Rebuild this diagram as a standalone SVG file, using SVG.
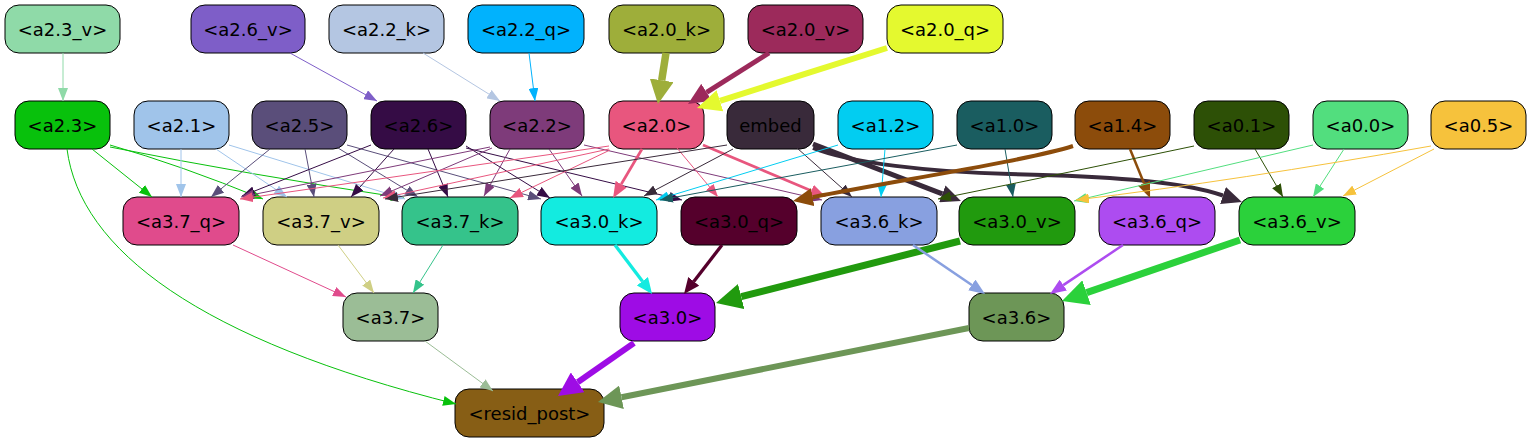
<svg xmlns="http://www.w3.org/2000/svg" width="1531" height="443" viewBox="0 0 1531 443">
<style>
.node rect{stroke:#000;stroke-width:1}
.node text{font-family:"DejaVu Sans","Liberation Sans",sans-serif;font-size:18px;text-anchor:middle;fill:#000}
#edges path{fill:none;stroke-width:1}
</style>
<defs>
<marker id="t-a23v" viewBox="0 0 13 10" refX="13" refY="5" markerWidth="13" markerHeight="10" markerUnits="userSpaceOnUse" orient="auto"><path d="M0,0L13,5L0,10z" fill="#8fdaa8"/></marker>
<marker id="t-a26v" viewBox="0 0 13 10" refX="13" refY="5" markerWidth="13" markerHeight="10" markerUnits="userSpaceOnUse" orient="auto"><path d="M0,0L13,5L0,10z" fill="#7e5ec8"/></marker>
<marker id="t-a22k" viewBox="0 0 13 10" refX="13" refY="5" markerWidth="13" markerHeight="10" markerUnits="userSpaceOnUse" orient="auto"><path d="M0,0L13,5L0,10z" fill="#b4c6e2"/></marker>
<marker id="t-a22q" viewBox="0 0 13 10" refX="13" refY="5" markerWidth="13" markerHeight="10" markerUnits="userSpaceOnUse" orient="auto"><path d="M0,0L13,5L0,10z" fill="#01b2fd"/></marker>
<marker id="t-a23" viewBox="0 0 13 10" refX="13" refY="5" markerWidth="13" markerHeight="10" markerUnits="userSpaceOnUse" orient="auto"><path d="M0,0L13,5L0,10z" fill="#08c10c"/></marker>
<marker id="t-a21" viewBox="0 0 13 10" refX="13" refY="5" markerWidth="13" markerHeight="10" markerUnits="userSpaceOnUse" orient="auto"><path d="M0,0L13,5L0,10z" fill="#a0c4ea"/></marker>
<marker id="t-a25" viewBox="0 0 13 10" refX="13" refY="5" markerWidth="13" markerHeight="10" markerUnits="userSpaceOnUse" orient="auto"><path d="M0,0L13,5L0,10z" fill="#5a4e7a"/></marker>
<marker id="t-a26" viewBox="0 0 13 10" refX="13" refY="5" markerWidth="13" markerHeight="10" markerUnits="userSpaceOnUse" orient="auto"><path d="M0,0L13,5L0,10z" fill="#350c45"/></marker>
<marker id="t-a22" viewBox="0 0 13 10" refX="13" refY="5" markerWidth="13" markerHeight="10" markerUnits="userSpaceOnUse" orient="auto"><path d="M0,0L13,5L0,10z" fill="#7e3b7a"/></marker>
<marker id="t-a20" viewBox="0 0 13 10" refX="13" refY="5" markerWidth="13" markerHeight="10" markerUnits="userSpaceOnUse" orient="auto"><path d="M0,0L13,5L0,10z" fill="#e8567e"/></marker>
<marker id="t-emb" viewBox="0 0 13 10" refX="13" refY="5" markerWidth="13" markerHeight="10" markerUnits="userSpaceOnUse" orient="auto"><path d="M0,0L13,5L0,10z" fill="#392a3a"/></marker>
<marker id="t-a12" viewBox="0 0 13 10" refX="13" refY="5" markerWidth="13" markerHeight="10" markerUnits="userSpaceOnUse" orient="auto"><path d="M0,0L13,5L0,10z" fill="#02cdf1"/></marker>
<marker id="t-a10" viewBox="0 0 13 10" refX="13" refY="5" markerWidth="13" markerHeight="10" markerUnits="userSpaceOnUse" orient="auto"><path d="M0,0L13,5L0,10z" fill="#1a5d60"/></marker>
<marker id="t-a01" viewBox="0 0 13 10" refX="13" refY="5" markerWidth="13" markerHeight="10" markerUnits="userSpaceOnUse" orient="auto"><path d="M0,0L13,5L0,10z" fill="#2d5006"/></marker>
<marker id="t-a00" viewBox="0 0 13 10" refX="13" refY="5" markerWidth="13" markerHeight="10" markerUnits="userSpaceOnUse" orient="auto"><path d="M0,0L13,5L0,10z" fill="#52de7e"/></marker>
<marker id="t-a05" viewBox="0 0 13 10" refX="13" refY="5" markerWidth="13" markerHeight="10" markerUnits="userSpaceOnUse" orient="auto"><path d="M0,0L13,5L0,10z" fill="#f6c23c"/></marker>
<marker id="t-a37q" viewBox="0 0 13 10" refX="13" refY="5" markerWidth="13" markerHeight="10" markerUnits="userSpaceOnUse" orient="auto"><path d="M0,0L13,5L0,10z" fill="#e04b8c"/></marker>
<marker id="t-a37v" viewBox="0 0 13 10" refX="13" refY="5" markerWidth="13" markerHeight="10" markerUnits="userSpaceOnUse" orient="auto"><path d="M0,0L13,5L0,10z" fill="#cfcf84"/></marker>
<marker id="t-a37k" viewBox="0 0 13 10" refX="13" refY="5" markerWidth="13" markerHeight="10" markerUnits="userSpaceOnUse" orient="auto"><path d="M0,0L13,5L0,10z" fill="#35c38b"/></marker>
<marker id="t-a37" viewBox="0 0 13 10" refX="13" refY="5" markerWidth="13" markerHeight="10" markerUnits="userSpaceOnUse" orient="auto"><path d="M0,0L13,5L0,10z" fill="#9bbd96"/></marker>
<marker id="k-a20k" viewBox="0 0 24 24" refX="0" refY="12" markerWidth="24" markerHeight="24" markerUnits="userSpaceOnUse" orient="auto"><path d="M0,0L24,12L0,24z" fill="#9eae3a"/></marker>
<marker id="k-a20v" viewBox="0 0 22 20" refX="0" refY="10" markerWidth="22" markerHeight="20" markerUnits="userSpaceOnUse" orient="auto"><path d="M0,0L22,10L0,20z" fill="#9c2a5b"/></marker>
<marker id="k-a20q" viewBox="0 0 24 22" refX="0" refY="11" markerWidth="24" markerHeight="22" markerUnits="userSpaceOnUse" orient="auto"><path d="M0,0L24,11L0,22z" fill="#e4f92f"/></marker>
<marker id="m-a20" viewBox="0 0 16 13" refX="0" refY="6.5" markerWidth="16" markerHeight="13" markerUnits="userSpaceOnUse" orient="auto"><path d="M0,0L16,6.5L0,13z" fill="#e8567e"/></marker>
<marker id="k-emb" viewBox="0 0 20 18" refX="0" refY="9" markerWidth="20" markerHeight="18" markerUnits="userSpaceOnUse" orient="auto"><path d="M0,0L20,9L0,18z" fill="#392a3a"/></marker>
<marker id="k-a14" viewBox="0 0 20 18" refX="0" refY="9" markerWidth="20" markerHeight="18" markerUnits="userSpaceOnUse" orient="auto"><path d="M0,0L20,9L0,18z" fill="#8c4c0b"/></marker>
<marker id="m-a14" viewBox="0 0 16 13" refX="0" refY="6.5" markerWidth="16" markerHeight="13" markerUnits="userSpaceOnUse" orient="auto"><path d="M0,0L16,6.5L0,13z" fill="#8c4c0b"/></marker>
<marker id="m-a30k" viewBox="0 0 16 14" refX="0" refY="7" markerWidth="16" markerHeight="14" markerUnits="userSpaceOnUse" orient="auto"><path d="M0,0L16,7L0,14z" fill="#13ebe0"/></marker>
<marker id="m-a30q" viewBox="0 0 16 14" refX="0" refY="7" markerWidth="16" markerHeight="14" markerUnits="userSpaceOnUse" orient="auto"><path d="M0,0L16,7L0,14z" fill="#55002c"/></marker>
<marker id="k-a30v" viewBox="0 0 26 26" refX="0" refY="13" markerWidth="26" markerHeight="26" markerUnits="userSpaceOnUse" orient="auto"><path d="M0,0L26,13L0,26z" fill="#219a0e"/></marker>
<marker id="m-a36k" viewBox="0 0 16 13" refX="0" refY="6.5" markerWidth="16" markerHeight="13" markerUnits="userSpaceOnUse" orient="auto"><path d="M0,0L16,6.5L0,13z" fill="#88a0e0"/></marker>
<marker id="m-a36q" viewBox="0 0 16 13" refX="0" refY="6.5" markerWidth="16" markerHeight="13" markerUnits="userSpaceOnUse" orient="auto"><path d="M0,0L16,6.5L0,13z" fill="#ad4cf0"/></marker>
<marker id="k-a36v" viewBox="0 0 26 26" refX="0" refY="13" markerWidth="26" markerHeight="26" markerUnits="userSpaceOnUse" orient="auto"><path d="M0,0L26,13L0,26z" fill="#2bd13b"/></marker>
<marker id="k-a30" viewBox="0 0 24 24" refX="0" refY="12" markerWidth="24" markerHeight="24" markerUnits="userSpaceOnUse" orient="auto"><path d="M0,0L24,12L0,24z" fill="#9e0ce5"/></marker>
<marker id="k-a36" viewBox="0 0 24 24" refX="0" refY="12" markerWidth="24" markerHeight="24" markerUnits="userSpaceOnUse" orient="auto"><path d="M0,0L24,12L0,24z" fill="#6d9657"/></marker>
</defs>
<rect width="1531" height="443" fill="#fff"/>

<g id="nodes">
<g id="n-a2.3_v" class="node"><rect x="5" y="5" width="115" height="48" rx="14" fill="#8fdaa8"/><text x="62.5" y="35.5">&lt;a2.3_v&gt;</text></g>
<g id="n-a2.6_v" class="node"><rect x="191" y="5" width="114" height="48" rx="14" fill="#7e5ec8"/><text x="248" y="35.5">&lt;a2.6_v&gt;</text></g>
<g id="n-a2.2_k" class="node"><rect x="329" y="5" width="115" height="48" rx="14" fill="#b4c6e2"/><text x="386.5" y="35.5">&lt;a2.2_k&gt;</text></g>
<g id="n-a2.2_q" class="node"><rect x="468" y="5" width="116" height="48" rx="14" fill="#01b2fd"/><text x="526" y="35.5">&lt;a2.2_q&gt;</text></g>
<g id="n-a2.0_k" class="node"><rect x="609" y="5" width="115" height="48" rx="14" fill="#9eae3a"/><text x="666.5" y="35.5">&lt;a2.0_k&gt;</text></g>
<g id="n-a2.0_v" class="node"><rect x="748" y="5" width="115" height="48" rx="14" fill="#9c2a5b"/><text x="805.5" y="35.5">&lt;a2.0_v&gt;</text></g>
<g id="n-a2.0_q" class="node"><rect x="887" y="5" width="116" height="48" rx="14" fill="#e4f92f"/><text x="945" y="35.5">&lt;a2.0_q&gt;</text></g>

<g id="n-a2.3" class="node"><rect x="15" y="101" width="95" height="48" rx="14" fill="#08c10c"/><text x="62.5" y="131.5">&lt;a2.3&gt;</text></g>
<g id="n-a2.1" class="node"><rect x="134" y="101" width="95" height="48" rx="14" fill="#a0c4ea"/><text x="181.5" y="131.5">&lt;a2.1&gt;</text></g>
<g id="n-a2.5" class="node"><rect x="252" y="101" width="95" height="48" rx="14" fill="#5a4e7a"/><text x="299.5" y="131.5">&lt;a2.5&gt;</text></g>
<g id="n-a2.6" class="node"><rect x="371" y="101" width="95" height="48" rx="14" fill="#350c45"/><text x="418.5" y="131.5">&lt;a2.6&gt;</text></g>
<g id="n-a2.2" class="node"><rect x="490" y="101" width="94" height="48" rx="14" fill="#7e3b7a"/><text x="537" y="131.5">&lt;a2.2&gt;</text></g>
<g id="n-a2.0" class="node"><rect x="609" y="101" width="95" height="48" rx="14" fill="#e8567e"/><text x="656.5" y="131.5">&lt;a2.0&gt;</text></g>
<g id="n-embed" class="node"><rect x="727" y="101" width="87" height="48" rx="14" fill="#392a3a"/><text x="770.5" y="131.5">embed</text></g>
<g id="n-a1.2" class="node"><rect x="838" y="101" width="95" height="48" rx="14" fill="#02cdf1"/><text x="885.5" y="131.5">&lt;a1.2&gt;</text></g>
<g id="n-a1.0" class="node"><rect x="957" y="101" width="95" height="48" rx="14" fill="#1a5d60"/><text x="1004.5" y="131.5">&lt;a1.0&gt;</text></g>
<g id="n-a1.4" class="node"><rect x="1075" y="101" width="95" height="48" rx="14" fill="#8c4c0b"/><text x="1122.5" y="131.5">&lt;a1.4&gt;</text></g>
<g id="n-a0.1" class="node"><rect x="1194" y="101" width="95" height="48" rx="14" fill="#2d5006"/><text x="1241.5" y="131.5">&lt;a0.1&gt;</text></g>
<g id="n-a0.0" class="node"><rect x="1313" y="101" width="95" height="48" rx="14" fill="#52de7e"/><text x="1360.5" y="131.5">&lt;a0.0&gt;</text></g>
<g id="n-a0.5" class="node"><rect x="1431" y="101" width="95" height="48" rx="14" fill="#f6c23c"/><text x="1478.5" y="131.5">&lt;a0.5&gt;</text></g>

<g id="n-a3.7_q" class="node"><rect x="123" y="197" width="116" height="48" rx="14" fill="#e04b8c"/><text x="181" y="227.5">&lt;a3.7_q&gt;</text></g>
<g id="n-a3.7_v" class="node"><rect x="263" y="197" width="116" height="48" rx="14" fill="#cfcf84"/><text x="321" y="227.5">&lt;a3.7_v&gt;</text></g>
<g id="n-a3.7_k" class="node"><rect x="402" y="197" width="116" height="48" rx="14" fill="#35c38b"/><text x="460" y="227.5">&lt;a3.7_k&gt;</text></g>
<g id="n-a3.0_k" class="node"><rect x="541" y="197" width="116" height="48" rx="14" fill="#13ebe0"/><text x="599" y="227.5">&lt;a3.0_k&gt;</text></g>
<g id="n-a3.0_q" class="node"><rect x="681" y="197" width="116" height="48" rx="14" fill="#55002c"/><text x="739" y="227.5">&lt;a3.0_q&gt;</text></g>
<g id="n-a3.6_k" class="node"><rect x="821" y="197" width="116" height="48" rx="14" fill="#88a0e0"/><text x="879" y="227.5">&lt;a3.6_k&gt;</text></g>
<g id="n-a3.0_v" class="node"><rect x="959" y="197" width="116" height="48" rx="14" fill="#219a0e"/><text x="1017" y="227.5">&lt;a3.0_v&gt;</text></g>
<g id="n-a3.6_q" class="node"><rect x="1099" y="197" width="116" height="48" rx="14" fill="#ad4cf0"/><text x="1157" y="227.5">&lt;a3.6_q&gt;</text></g>
<g id="n-a3.6_v" class="node"><rect x="1239" y="197" width="116" height="48" rx="14" fill="#2bd13b"/><text x="1297" y="227.5">&lt;a3.6_v&gt;</text></g>

<g id="n-a3.7" class="node"><rect x="343" y="293" width="95" height="48" rx="14" fill="#9bbd96"/><text x="390.5" y="323.5">&lt;a3.7&gt;</text></g>
<g id="n-a3.0" class="node"><rect x="620" y="293" width="95" height="48" rx="14" fill="#9e0ce5"/><text x="667.5" y="323.5">&lt;a3.0&gt;</text></g>
<g id="n-a3.6" class="node"><rect x="969" y="293" width="95" height="48" rx="14" fill="#6d9657"/><text x="1016.5" y="323.5">&lt;a3.6&gt;</text></g>

<g id="n-resid_post" class="node"><rect x="455" y="389" width="149" height="48" rx="14" fill="#875e15"/><text x="529.5" y="419.5">&lt;resid_post&gt;</text></g>
</g>

<g id="edges">
<path d="M63,53L63,101" stroke="#8fdaa8" marker-end="url(#t-a23v)"/>
<path d="M290,53L377,101" stroke="#7e5ec8" marker-end="url(#t-a26v)"/>
<path d="M423,53L500,101" stroke="#b4c6e2" marker-end="url(#t-a22k)"/>
<path d="M529,53L535,101" stroke="#01b2fd" marker-end="url(#t-a22q)"/>
<path d="M666,53L661.7,80.3" stroke="#9eae3a" style="stroke-width:7.5" marker-end="url(#k-a20k)"/>
<path d="M769,53L706.6,92.3" stroke="#9c2a5b" style="stroke-width:5" marker-end="url(#k-a20v)"/>
<path d="M887,48L719.9,100.8" stroke="#e4f92f" style="stroke-width:6" marker-end="url(#k-a20q)"/>

<path d="M92,149L152,197" stroke="#08c10c" marker-end="url(#t-a23)"/>
<path d="M110,145Q180,165 263,199" stroke="#08c10c" marker-end="url(#t-a23)"/>
<path d="M110,147Q250,175 404,198" stroke="#08c10c" marker-end="url(#t-a23)"/>
<path d="M67,149C80,250 200,340 456,404" stroke="#08c10c" marker-end="url(#t-a23)"/>

<path d="M181,149L181,197" stroke="#a0c4ea" marker-end="url(#t-a21)"/>
<path d="M216,149L287,197" stroke="#a0c4ea" marker-end="url(#t-a21)"/>
<path d="M229,145L405,199" stroke="#a0c4ea" marker-end="url(#t-a21)"/>

<path d="M270,149L211,197" stroke="#5a4e7a" marker-end="url(#t-a25)"/>
<path d="M305,149L314,197" stroke="#5a4e7a" marker-end="url(#t-a25)"/>
<path d="M338,148L418,197" stroke="#5a4e7a" marker-end="url(#t-a25)"/>
<path d="M347,145L541,199" stroke="#5a4e7a" marker-end="url(#t-a25)"/>

<path d="M371,145L242,196" stroke="#350c45" marker-end="url(#t-a26)"/>
<path d="M394,149L351,197" stroke="#350c45" marker-end="url(#t-a26)"/>
<path d="M428,149L448,197" stroke="#350c45" marker-end="url(#t-a26)"/>
<path d="M466,146L550,198" stroke="#350c45" marker-end="url(#t-a26)"/>
<path d="M466,148L682,200" stroke="#350c45" marker-end="url(#t-a26)"/>

<path d="M490,147L241,197" stroke="#7e3b7a" marker-end="url(#t-a22)"/>
<path d="M492,148L380,196" stroke="#7e3b7a" marker-end="url(#t-a22)"/>
<path d="M510,149L484,196" stroke="#7e3b7a" marker-end="url(#t-a22)"/>
<path d="M549,149L582,196" stroke="#7e3b7a" marker-end="url(#t-a22)"/>
<path d="M584,145L822,200" stroke="#7e3b7a" marker-end="url(#t-a22)"/>

<path d="M609,146L240,199" stroke="#e8567e" marker-end="url(#t-a20)"/>
<path d="M609,149L383,198" stroke="#e8567e" marker-end="url(#t-a20)"/>
<path d="M610,150L510,198" stroke="#e8567e" marker-end="url(#t-a20)"/>
<path d="M642,149L621.2,184.2" stroke="#e8567e" style="stroke-width:2.7" marker-end="url(#m-a20)"/>
<path d="M677,148L718,197" stroke="#e8567e" marker-end="url(#t-a20)"/>
<path d="M703,145L811.3,190.8" stroke="#e8567e" style="stroke-width:2.7" marker-end="url(#m-a20)"/>

<path d="M727,145L385,199" stroke="#392a3a" marker-end="url(#t-emb)"/>
<path d="M733,149L644,196" stroke="#392a3a" marker-end="url(#t-emb)"/>
<path d="M797,148L852,197" stroke="#392a3a" marker-end="url(#t-emb)"/>
<path d="M813,144L942.3,193.8" stroke="#392a3a" style="stroke-width:5" marker-end="url(#k-emb)"/>
<path d="M813,148C850,163 930,172 1010,174C1100,176 1178,180 1223,195.5" stroke="#392a3a" style="stroke-width:4" marker-end="url(#k-emb)"/>

<path d="M838,145L656,200" stroke="#02cdf1" marker-end="url(#t-a12)"/>
<path d="M885,149L881,197" stroke="#02cdf1" marker-end="url(#t-a12)"/>

<path d="M957,145L660,200" stroke="#1a5d60" marker-end="url(#t-a10)"/>
<path d="M1005,149L1013,197" stroke="#1a5d60" marker-end="url(#t-a10)"/>

<path d="M1073,146C1030,160 900,180 812.6,197.2" stroke="#8c4c0b" style="stroke-width:4" marker-end="url(#k-a14)"/>
<path d="M1130,149L1144,183.2" stroke="#8c4c0b" style="stroke-width:2.5" marker-end="url(#m-a14)"/>

<path d="M1194,146Q1080,170 938,199" stroke="#2d5006" marker-end="url(#t-a01)"/>
<path d="M1255,149L1283,197" stroke="#2d5006" marker-end="url(#t-a01)"/>

<path d="M1313,145L1074,201" stroke="#52de7e" marker-end="url(#t-a00)"/>
<path d="M1344,149L1313,197" stroke="#52de7e" marker-end="url(#t-a00)"/>

<path d="M1431,146Q1240,180 1076,200" stroke="#f6c23c" marker-end="url(#t-a05)"/>
<path d="M1434,149L1343,196" stroke="#f6c23c" marker-end="url(#t-a05)"/>

<path d="M233,245L346,297" stroke="#e04b8c" marker-end="url(#t-a37q)"/>
<path d="M338,245L374,293" stroke="#cfcf84" marker-end="url(#t-a37v)"/>
<path d="M443,245L413,293" stroke="#35c38b" marker-end="url(#t-a37k)"/>
<path d="M615,245L642.4,281.2" stroke="#13ebe0" style="stroke-width:3.3" marker-end="url(#m-a30k)"/>
<path d="M722,245L693.8,281.4" stroke="#55002c" style="stroke-width:3.3" marker-end="url(#m-a30q)"/>
<path d="M960,241L741.2,296.6" stroke="#219a0e" style="stroke-width:7" marker-end="url(#k-a30v)"/>
<path d="M913,245L971.8,285" stroke="#88a0e0" style="stroke-width:2.5" marker-end="url(#m-a36k)"/>
<path d="M1123,245L1063.3,285.1" stroke="#ad4cf0" style="stroke-width:2.5" marker-end="url(#m-a36q)"/>
<path d="M1240,240L1086.6,292.6" stroke="#2bd13b" style="stroke-width:7" marker-end="url(#k-a36v)"/>

<path d="M425,341L493,391" stroke="#9bbd96" marker-end="url(#t-a37)"/>
<path d="M634,343L577.7,382.3" stroke="#9e0ce5" style="stroke-width:6" marker-end="url(#k-a30)"/>
<path d="M969,328L621.5,397.3" stroke="#6d9657" style="stroke-width:6" marker-end="url(#k-a36)"/>
</g>
</svg>
